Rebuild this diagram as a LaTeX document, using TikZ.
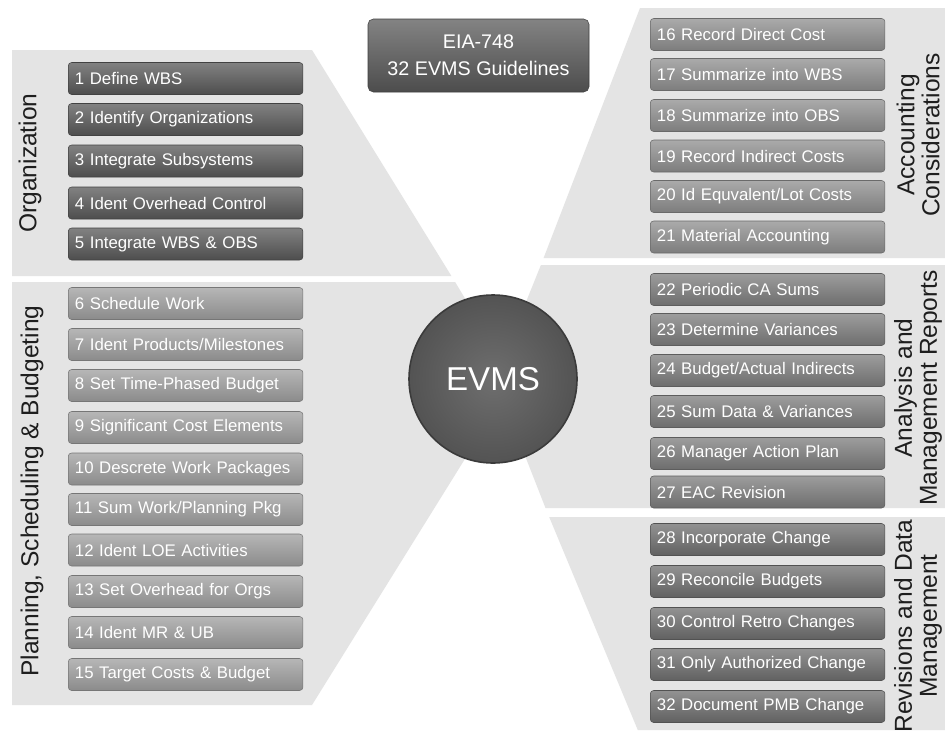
\documentclass[tikz,border=0pt]{standalone}
\usepackage{fontspec}
\setmainfont{Liberation Sans}
\definecolor{panelgray}{HTML}{E4E4E4}
\definecolor{orgbox}{HTML}{585858}
\definecolor{planbox}{HTML}{9E9E9E}
\definecolor{accbox}{HTML}{8E8E8E}
\definecolor{anabox}{HTML}{7C7C7C}
\definecolor{revbox}{HTML}{6E6E6E}
\definecolor{hubgray}{HTML}{626262}
\definecolor{titlebox}{HTML}{5A5A5A}
\definecolor{labeltext}{HTML}{1E1E1E}
\begin{document}
\begin{tikzpicture}[x=0.75pt,y=-0.75pt,
  panel/.style={fill=panelgray,draw=none},
  item/.style={anchor=west,rounded corners=2.5pt,minimum height=24pt,
    text width=166pt,inner xsep=5pt,inner ysep=0pt,align=left,text=white,
    font=\fontsize{12.6pt}{14pt}\selectfont,draw=#1!75!black,line width=0.4pt,
    top color=#1!75!white,middle color=#1,bottom color=#1!88!black},
  grouplabel/.style={rotate=90,align=center,text=labeltext,
    font=\fontsize{18.4pt}{18.8pt}\selectfont,inner sep=0pt}]
\useasboundingbox (0,0) rectangle (945,732);
\fill[white] (0,0) rectangle (945,732);

% background fans converging on the hub
\fill[panel] (12,50) -- (312,50) -- (451.4,276) -- (12,276) -- cycle;
\fill[panel] (12,282) -- (455.1,282) -- (514,380) -- (312,705) -- (12,705) -- cycle;
\fill[panel] (640,8) -- (945,8) -- (945,258) -- (543.6,258) -- cycle;
\fill[panel] (540.9,265) -- (945,265) -- (945,508) -- (545.5,508) -- (495,379) -- cycle;
\fill[panel] (549.2,517) -- (945,517) -- (945,730) -- (637.8,730) -- cycle;

% group labels
\node[grouplabel] (lorg) at (30,163) {Organization};
\node[grouplabel] (lplan) at (32,491) {Planning, Scheduling \& Budgeting};
\node[grouplabel] (lacc) at (918,135) {Accounting\\Considerations};
\node[grouplabel] (lana) at (918,388) {Analysis and\\Management Reports};
\node[grouplabel] (lrev) at (918,626) {Revisions and Data\\Management};

% guideline boxes
\foreach \n/\y/\t in {1/78.5/{Define WBS},2/119.5/{Identify Organizations},
    3/161/{Integrate Subsystems},4/203/{Ident Overhead Control},
    5/244/{Integrate WBS \& OBS}}
  \node[item=orgbox] (g\n) at (68,\y) {\n\ \t};
\foreach \n/\y/\t in {6/303.5/{Schedule Work},7/344.5/{Ident Products/Milestones},
    8/385.5/{Set Time-Phased Budget},9/427.5/{Significant Cost Elements},
    10/469/{Descrete Work Packages},11/509.5/{Sum Work/Planning Pkg},
    12/550/{Ident LOE Activities},13/591.5/{Set Overhead for Orgs},
    14/632.5/{Ident MR \& UB},15/674.5/{Target Costs \& Budget}}
  \node[item=planbox] (g\n) at (68,\y) {\n\ \t};
\foreach \n/\y/\t in {16/34.5/{Record Direct Cost},17/74.5/{Summarize into WBS},
    18/115.5/{Summarize into OBS},19/156/{Record Indirect Costs},
    20/196.5/{Id Equvalent/Lot Costs},21/237/{Material Accounting}}
  \node[item=accbox] (g\n) at (650,\y) {\n\ \t};
\foreach \n/\y/\t in {22/289.5/{Periodic CA Sums},23/329.5/{Determine Variances},
    24/370.5/{Budget/Actual Indirects},25/411.5/{Sum Data \& Variances},
    26/453.5/{Manager Action Plan},27/492/{EAC Revision}}
  \node[item=anabox] (g\n) at (650,\y) {\n\ \t};
\foreach \n/\y/\t in {28/539.5/{Incorporate Change},29/581.5/{Reconcile Budgets},
    30/623.5/{Control Retro Changes},31/664.5/{Only Authorized Change},
    32/706.5/{Document PMB Change}}
  \node[item=revbox] (g\n) at (650,\y) {\n\ \t};

% title box
\node[rounded corners=4pt,minimum width=165.75pt,minimum height=54.75pt,
  align=center,text=white,font=\fontsize{14.8pt}{20.25pt}\selectfont,
  draw=titlebox!70!black,top color=titlebox!75!white,middle color=titlebox,
  bottom color=titlebox!85!black] (title) at (478.5,55.5) {EIA-748\\32 EVMS Guidelines};

% central hub
\node[circle,minimum size=126pt,inner sep=0pt,draw=hubgray!60!black,line width=1.2pt,
  inner color=hubgray!92!white,outer color=hubgray!85!black,text=white,
  font=\fontsize{24.8pt}{26pt}\selectfont] (hub) at (493,379) {EVMS};
\end{tikzpicture}
\end{document}
